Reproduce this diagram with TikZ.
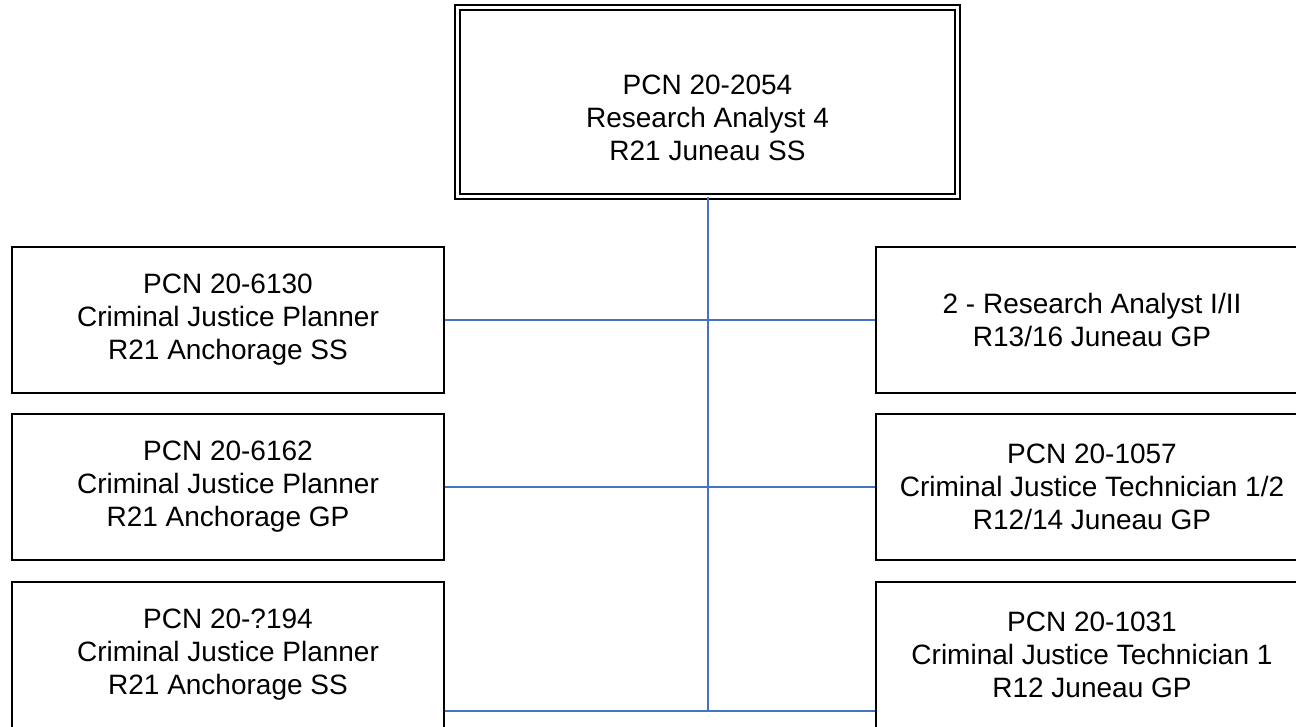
\documentclass[tikz,border=0pt]{standalone}
\usepackage{fontspec}
\setmainfont{Liberation Sans}
\definecolor{linkblue}{RGB}{68,114,196}

\begin{document}
\begin{tikzpicture}[x=0.5pt, y=-0.5pt,
    box/.style={draw, line width=1pt, minimum width=216pt, minimum height=73pt,
        align=center, font=\fontsize{14}{16.5}\selectfont},
    bossbox/.style={box, double, double distance=1.5pt, minimum width=250pt,
        minimum height=94.5pt, text height=59pt},
    link/.style={draw=linkblue, line width=1pt}]
    \useasboundingbox (0,0) rectangle (1296,727);
    \node [bossbox] (boss) at (707.5,102) {PCN 20-2054\\Research Analyst 4\\R21 Juneau SS};
    \node [box] (left1) at (228,320) {PCN 20-6130\\Criminal Justice Planner\\R21 Anchorage SS};
    \node [box] (left2) at (228,487) {PCN 20-6162\\Criminal Justice Planner\\R21 Anchorage GP};
    \node [box] (left3) at (228,655) {PCN 20-?194\\Criminal Justice Planner\\R21 Anchorage SS};
    \node [box] (right1) at (1092,320) {2 - Research Analyst I/II\\R13/16 Juneau GP};
    \node [box] (right2) at (1092,487) {PCN 20-1057\\Criminal Justice Technician 1/2\\R12/14 Juneau GP};
    \node [box] (right3) at (1092,655) {PCN 20-1031\\Criminal Justice Technician 1\\R12 Juneau GP};
    \coordinate (hub) at (708,711);
    \draw [link] (boss.south -| hub) -- (hub);
    \draw [link] (left1.east) -- (right1.west);
    \draw [link] (left2.east) -- (right2.west);
    \draw [link] (left3.east |- hub) -- (right3.west |- hub);
\end{tikzpicture}
\end{document}
